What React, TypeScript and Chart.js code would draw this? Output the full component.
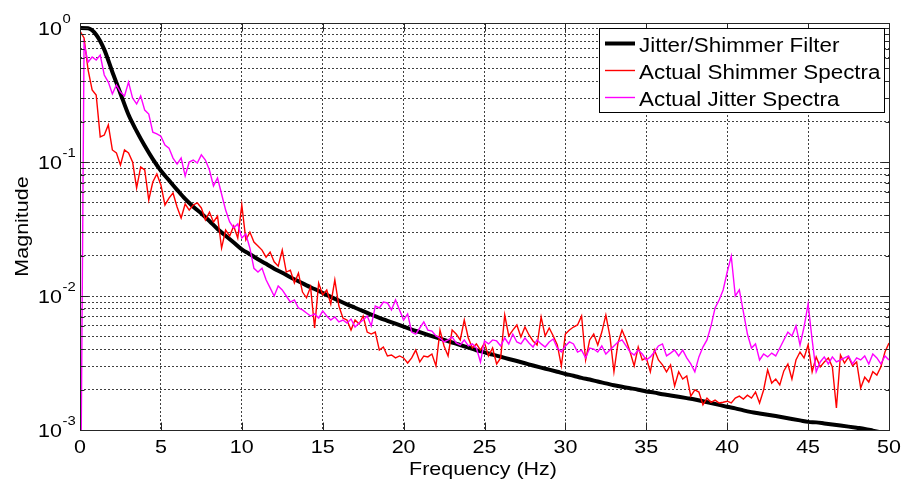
import React, { useEffect, useRef } from 'react';
import { Chart, registerables } from 'chart.js';

Chart.register(...registerables);

// ---------------- data ----------------
// frequency bins of the measured spectra (Hz, 0.25 Hz resolution)
const SPEC_FREQ: number[] = Array.from({ length: 201 }, (_, i) => i * 0.25);
// frequency points of the filter response (Hz, 0.5 Hz resolution)
const FILTER_FREQ: number[] = Array.from({ length: 101 }, (_, i) => i * 0.5);

const FILTER_MAG: number[] = [
  1.0, 0.995, 0.89, 0.69, 0.47, 0.325, 0.225, 0.17, 0.132, 0.105,
  0.086, 0.073, 0.062, 0.053, 0.0464, 0.0413, 0.0363, 0.0316, 0.0282, 0.0251,
  0.0223, 0.0205, 0.0188, 0.0174, 0.0160, 0.0149, 0.0138, 0.0129, 0.0120, 0.01127,
  0.01054, 0.00986, 0.00923, 0.00866, 0.00817, 0.00771, 0.00726, 0.00687, 0.00653, 0.00621,
  0.00590, 0.00562, 0.00537, 0.00513, 0.00491, 0.00470, 0.00450, 0.00431, 0.00412, 0.00394,
  0.00380, 0.00365, 0.00352, 0.00339, 0.00327, 0.00315, 0.00303, 0.00292, 0.00282, 0.00272,
  0.00262, 0.00254, 0.00245, 0.00238, 0.00230, 0.00223, 0.00216, 0.00210, 0.00205, 0.00200,
  0.00194, 0.00190, 0.00185, 0.00181, 0.00177, 0.00173, 0.00169, 0.00164, 0.00159, 0.00154,
  0.00149, 0.00145, 0.00140, 0.00136, 0.00133, 0.00130, 0.00127, 0.00124, 0.00121, 0.00118,
  0.00115, 0.00114, 0.00112, 0.00110, 0.00108, 0.00106, 0.00104, 0.00102, 0.00099, 0.00096,
  0.00093,
];

const SHIMMER_MAG: number[] = [
  0.95, 0.842, 0.486, 0.345, 0.316, 0.154, 0.159, 0.189,
  0.123, 0.117, 0.095, 0.123, 0.117, 0.100, 0.064, 0.0918,
  0.0872, 0.0521, 0.0709, 0.0814, 0.0674, 0.0478, 0.0538, 0.0587,
  0.0462, 0.0382, 0.0486, 0.0438, 0.0478, 0.0495, 0.0454, 0.0369,
  0.0423, 0.0357, 0.0395, 0.0228, 0.0311, 0.0280, 0.0333, 0.0271,
  0.0478, 0.0262, 0.0300, 0.0253, 0.0236, 0.0220, 0.0195, 0.0213,
  0.0180, 0.0167, 0.0220, 0.0151, 0.0156, 0.0125, 0.0148, 0.0107,
  0.00969, 0.0117, 0.00577, 0.0125, 0.0102, 0.0111, 0.00872, 0.0132,
  0.00842, 0.00685, 0.00662, 0.00557, 0.00662, 0.00618, 0.00709, 0.00538,
  0.00520, 0.00538, 0.00395, 0.00416, 0.00357, 0.00363, 0.00345, 0.00357,
  0.00345, 0.00316, 0.00345, 0.00395, 0.00322, 0.00357, 0.00351, 0.00369,
  0.00301, 0.00557, 0.00424, 0.00357, 0.00557, 0.00520, 0.00470, 0.00662,
  0.00486, 0.00409, 0.00439, 0.00395, 0.00446, 0.00357, 0.00409, 0.00311,
  0.00345, 0.00721, 0.00503, 0.00557, 0.00608, 0.00495, 0.00587, 0.00512,
  0.00462, 0.00431, 0.00697, 0.00503, 0.00577, 0.00503, 0.00431, 0.00301,
  0.00520, 0.00557, 0.00587, 0.00608, 0.00709, 0.00333, 0.00470, 0.00520,
  0.00431, 0.00538, 0.00721, 0.00503, 0.00272, 0.00446, 0.00557, 0.00470,
  0.00382, 0.00301, 0.00416, 0.00333, 0.00345, 0.00272, 0.00395, 0.00333,
  0.00306, 0.00272, 0.00306, 0.00213, 0.00272, 0.00240, 0.00253, 0.00179,
  0.00199, 0.00192, 0.00154, 0.00173, 0.00161, 0.00167, 0.00159, 0.00161,
  0.00164, 0.00159, 0.00173, 0.00179, 0.00170, 0.00182, 0.00173, 0.00192,
  0.00159, 0.00199, 0.00281, 0.00224, 0.00240, 0.00217, 0.00276, 0.00311,
  0.00240, 0.00333, 0.00382, 0.00345, 0.00431, 0.00272, 0.00351, 0.00296,
  0.00322, 0.00345, 0.00296, 0.00146, 0.00363, 0.00316, 0.00351, 0.00301,
  0.00322, 0.00206, 0.00248, 0.00228, 0.00272, 0.00257, 0.00296, 0.00382,
  0.00446,
];

const JITTER_MAG: number[] = [
  0.00005, 0.760, 0.557, 0.608, 0.577, 0.629, 0.446, 0.395,
  0.322, 0.376, 0.333, 0.311, 0.395, 0.300, 0.271, 0.311,
  0.244, 0.228, 0.167, 0.162, 0.156, 0.134, 0.127, 0.107,
  0.0966, 0.107, 0.0786, 0.100, 0.1035, 0.0983, 0.113, 0.1035,
  0.0872, 0.0663, 0.0760, 0.0577, 0.0438, 0.0357, 0.0322, 0.0345,
  0.0271, 0.0290, 0.0228, 0.0161, 0.0151, 0.0161, 0.0132, 0.0115,
  0.0100, 0.0119, 0.0111, 0.0100, 0.00902, 0.00934, 0.00814, 0.00787,
  0.00747, 0.00709, 0.00735, 0.00685, 0.00774, 0.00709, 0.00662, 0.00697,
  0.00640, 0.00662, 0.00629, 0.00673, 0.00587, 0.00629, 0.00662, 0.00709,
  0.00598, 0.00842, 0.00814, 0.00902, 0.00887, 0.00787, 0.00934, 0.00787,
  0.00662, 0.00735, 0.00538, 0.00520, 0.00577, 0.00640, 0.00557, 0.00548,
  0.00503, 0.00486, 0.00454, 0.00470, 0.00495, 0.00446, 0.00431, 0.00470,
  0.00424, 0.00439, 0.00409, 0.00322, 0.00462, 0.00439, 0.00470, 0.00462,
  0.00424, 0.00486, 0.00439, 0.00520, 0.00454, 0.00439, 0.00486, 0.00446,
  0.00416, 0.00470, 0.00439, 0.00416, 0.00454, 0.00478, 0.00409, 0.00382,
  0.00424, 0.00454, 0.00439, 0.00382, 0.00395, 0.00345, 0.00409, 0.00402,
  0.00382, 0.00424, 0.00369, 0.00395, 0.00424, 0.00454, 0.00470, 0.00424,
  0.00382, 0.00363, 0.00395, 0.00369, 0.00333, 0.00351, 0.00382, 0.00424,
  0.00439, 0.00357, 0.00375, 0.00395, 0.00357, 0.00395, 0.00345, 0.00311,
  0.00272, 0.00351, 0.00416, 0.00470, 0.00598, 0.00814, 0.00934, 0.0111,
  0.0151, 0.0198, 0.0100, 0.0111, 0.00760, 0.00520, 0.00409, 0.00439,
  0.00333, 0.00369, 0.00351, 0.00375, 0.00357, 0.00409, 0.00470, 0.00538,
  0.00503, 0.00598, 0.00431, 0.00587, 0.00872, 0.00470, 0.00272, 0.00322,
  0.00351, 0.00311, 0.00351, 0.00322, 0.00333, 0.00345, 0.00357, 0.00311,
  0.00345, 0.00333, 0.00357, 0.00311, 0.00369, 0.00345, 0.00311, 0.00357,
  0.00333,
];

const SERIES_NAMES: string[] = ['Jitter/Shimmer Filter', 'Actual Shimmer Spectra', 'Actual Jitter Spectra'];
const SERIES_COLORS: string[] = ['#000000', '#ff0000', '#ff00ff'];
const SERIES_WIDTHS: number[] = [4, 1.4, 1.4];

const X_TICKS: number[] = [0, 5, 10, 15, 20, 25, 30, 35, 40, 45, 50];
const Y_DECADES: number[] = [0.001, 0.01, 0.1, 1];
const Y_EXPONENTS: string[] = ['-3', '-2', '-1', '0'];
const Y_GRID: number[] = [
  0.001, 0.002, 0.003, 0.004, 0.005, 0.006, 0.007, 0.008, 0.009,
  0.01, 0.02, 0.03, 0.04, 0.05, 0.06, 0.07, 0.08, 0.09,
  0.1, 0.2, 0.3, 0.4, 0.5, 0.6, 0.7, 0.8, 0.9, 1,
];
const X_TITLE = 'Frequency (Hz)';
const Y_TITLE = 'Magnitude';

// ---------------- drawing helpers ----------------
const W = 905;
const H = 482;
const FONT = "'Liberation Sans', Arial, Helvetica, sans-serif";

function drawText(
  ctx: CanvasRenderingContext2D,
  s: string,
  x: number,
  y: number,
  size: number,
  sx: number,
  align: CanvasTextAlign,
  rot = 0,
) {
  ctx.save();
  ctx.translate(x, y);
  if (rot) ctx.rotate(rot);
  ctx.scale(sx, 1);
  ctx.font = `${size}px ${FONT}`;
  ctx.textAlign = align;
  ctx.textBaseline = 'alphabetic';
  ctx.fillStyle = '#000';
  ctx.fillText(s, 0, 0);
  ctx.restore();
}

const decorPlugin = {
  id: 'matlabDecor',
  afterDraw(chart: any) {
    const ctx: CanvasRenderingContext2D = chart.ctx;
    const xs = chart.scales.x;
    const ys = chart.scales.y;
    const a = chart.chartArea;
    const L = Math.round(a.left) + 0.5;
    const R = Math.round(a.right) + 0.5;
    const T = Math.round(a.top) + 0.5;
    const B = Math.round(a.bottom) + 0.5;

    // frame
    ctx.save();
    ctx.strokeStyle = '#262626';
    ctx.lineWidth = 1;
    ctx.setLineDash([]);
    ctx.strokeRect(L, T, R - L, B - T);

    // tick marks
    ctx.beginPath();
    X_TICKS.forEach((v) => {
      const px = Math.round(xs.getPixelForValue(v)) + 0.5;
      ctx.moveTo(px, B);
      ctx.lineTo(px, B - 8);
      ctx.moveTo(px, T);
      ctx.lineTo(px, T + 8);
    });
    Y_GRID.forEach((v) => {
      const py = Math.round(ys.getPixelForValue(v)) + 0.5;
      const len = Y_DECADES.includes(v) ? 8 : 4;
      ctx.moveTo(L, py);
      ctx.lineTo(L + len, py);
      ctx.moveTo(R, py);
      ctx.lineTo(R - len, py);
    });
    ctx.stroke();
    ctx.restore();

    // x tick labels
    X_TICKS.forEach((v) => {
      drawText(ctx, String(v), xs.getPixelForValue(v), 453, 19, 1.13, 'center');
    });
    // y tick labels 10^n
    Y_DECADES.forEach((v, i) => {
      const py = ys.getPixelForValue(v);
      drawText(ctx, '10', 62, py + 6.5, 19, 1.13, 'right');
      drawText(ctx, Y_EXPONENTS[i], 62.5, py - 5, 13.5, 1.1, 'left');
    });
    // axis titles
    drawText(ctx, X_TITLE, 483, 475, 19, 1.13, 'center');
    drawText(ctx, Y_TITLE, 28, 226.5, 19, 1.13, 'center', -Math.PI / 2);

    // legend box
    ctx.save();
    const lx = 599.5, ly = 28.5, lw = 285, lh = 84;
    ctx.fillStyle = '#ffffff';
    ctx.fillRect(lx, ly, lw, lh);
    ctx.strokeStyle = '#000';
    ctx.lineWidth = 1;
    ctx.strokeRect(lx, ly, lw, lh);
    const rows = [43.5, 70.5, 97.5];
    SERIES_NAMES.forEach((name, i) => {
      ctx.beginPath();
      ctx.strokeStyle = SERIES_COLORS[i];
      ctx.lineWidth = SERIES_WIDTHS[i];
      ctx.moveTo(605, rows[i]);
      ctx.lineTo(635, rows[i]);
      ctx.stroke();
      drawText(ctx, name, 639, rows[i] + 8, 20, 1.12, 'left');
    });
    ctx.restore();
  },
};

function toPoints(freq: number[], mag: number[]) {
  return freq.map((f, i) => ({ x: f, y: mag[i] }));
}

export default function App() {
  const ref = useRef<HTMLCanvasElement | null>(null);

  useEffect(() => {
    const canvas = ref.current;
    if (!canvas) return;
    const gridCommon = {
      color: 'rgba(0,0,0,0.75)',
      lineWidth: 1,
      drawTicks: false,
    };
    const chart = new Chart(canvas, {
      type: 'line',
      data: {
        datasets: [
          {
            label: SERIES_NAMES[0],
            data: toPoints(FILTER_FREQ, FILTER_MAG),
            borderColor: SERIES_COLORS[0],
            borderWidth: SERIES_WIDTHS[0],
            pointRadius: 0,
            cubicInterpolationMode: 'monotone',
            order: 3,
          },
          {
            label: SERIES_NAMES[1],
            data: toPoints(SPEC_FREQ, SHIMMER_MAG),
            borderColor: SERIES_COLORS[1],
            borderWidth: SERIES_WIDTHS[1],
            pointRadius: 0,
            tension: 0,
            order: 2,
          },
          {
            label: SERIES_NAMES[2],
            data: toPoints(SPEC_FREQ, JITTER_MAG),
            borderColor: SERIES_COLORS[2],
            borderWidth: SERIES_WIDTHS[2],
            pointRadius: 0,
            tension: 0,
            order: 1,
          },
        ],
      },
      options: {
        responsive: false,
        animation: false,
        devicePixelRatio: 1,
        events: [],
        layout: { padding: { top: 23, right: 16, left: 0, bottom: 0 } },
        plugins: {
          legend: { display: false },
          tooltip: { enabled: false },
          title: { display: false },
        },
        scales: {
          x: {
            type: 'linear',
            min: 0,
            max: 50,
            ticks: { display: false },
            afterBuildTicks: (s: any) => {
              s.ticks = X_TICKS.map((v) => ({ value: v }));
            },
            afterFit: (s: any) => {
              s.height = 52;
            },
            grid: gridCommon,
            border: { display: false, dash: [2, 2] },
          },
          y: {
            type: 'logarithmic',
            min: 0.001,
            max: 1.09,
            ticks: { display: false },
            afterBuildTicks: (s: any) => {
              s.ticks = Y_GRID.map((v) => ({ value: v }));
            },
            afterFit: (s: any) => {
              s.width = 80;
            },
            grid: gridCommon,
            border: { display: false, dash: [2, 2] },
          },
        },
      } as any,
      plugins: [decorPlugin],
    });
    return () => chart.destroy();
  }, []);

  return (
    <div style={{ position: 'fixed', left: 0, top: 0, width: W, height: H, background: '#fff' }}>
      <canvas ref={ref} width={W} height={H} style={{ width: `${W}px`, height: `${H}px`, display: 'block' }} />
    </div>
  );
}
